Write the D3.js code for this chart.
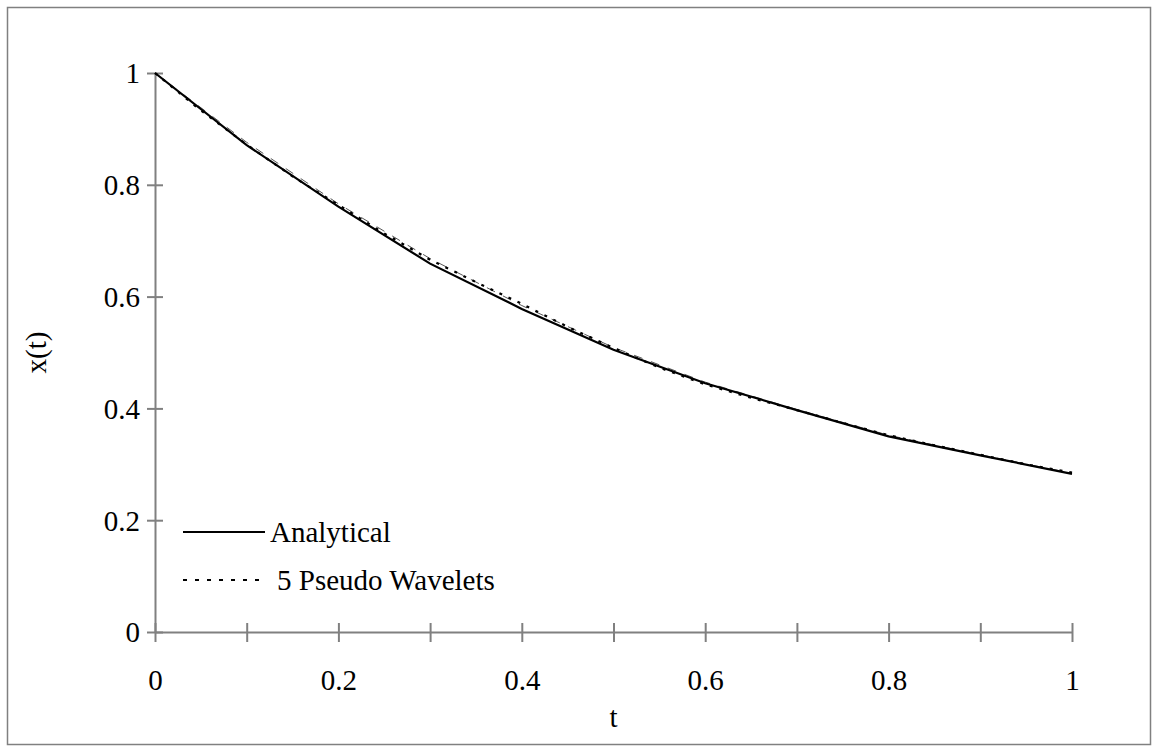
<!DOCTYPE html>
<html>
<head>
<meta charset="utf-8">
<script src="https://cdn.jsdelivr.net/npm/d3@7"></script>
<style>
  html, body { margin: 0; padding: 0; background: #fff; }
  svg { display: block; }
  text { font-family: "Liberation Serif", "Times New Roman", serif; fill: #000; }
</style>
</head>
<body>
<svg id="chart" width="1158" height="752"></svg>
<script>
// Time grid of the analytical solution and of the approximations
const tCoarse = [0, 0.1, 0.2, 0.3, 0.4, 0.5, 0.6, 0.7, 0.8, 0.9, 1.0];
const analytical = [1.0, 0.871, 0.761, 0.659, 0.578, 0.505, 0.445, 0.397, 0.350, 0.316, 0.283];

const tFine = [0, 0.05, 0.1, 0.15, 0.2, 0.25, 0.3, 0.35, 0.4, 0.45, 0.5,
               0.55, 0.6, 0.65, 0.7, 0.75, 0.8, 0.85, 0.9, 0.95, 1.0];
const pseudoWavelets5 = [1.0, 0.933, 0.872, 0.815, 0.764, 0.713, 0.666, 0.626, 0.587, 0.546, 0.508,
                         0.473, 0.443, 0.419, 0.397, 0.374, 0.352, 0.334, 0.317, 0.300, 0.285];
const coarseApprox = [1.0, 0.876, 0.766, 0.668, 0.584, 0.509, 0.447, 0.398, 0.352, 0.317, 0.284];

const xTicks = [0, 0.1, 0.2, 0.3, 0.4, 0.5, 0.6, 0.7, 0.8, 0.9, 1.0];
const xTickLabels = ["0", "", "0.2", "", "0.4", "", "0.6", "", "0.8", "", "1"];
const yTicks = [0, 0.2, 0.4, 0.6, 0.8, 1.0];
const yTickLabels = ["0", "0.2", "0.4", "0.6", "0.8", "1"];
const legendNames = ["Analytical", "5 Pseudo Wavelets"];

const svg = d3.select("#chart");
const axisGrey = "#808080";
const fontSize = 29;

// outer frame
svg.append("rect")
  .attr("x", 7.5).attr("y", 7.5)
  .attr("width", 1143).attr("height", 737)
  .attr("fill", "none").attr("stroke", axisGrey).attr("stroke-width", 1.5);

const x = d3.scaleLinear().domain([0, 1]).range([155, 1072]);
const y = d3.scaleLinear().domain([0, 1]).range([632, 73]);

// y axis: ticks straddle the axis line
const yAxis = d3.axisLeft(y).tickValues(yTicks).tickSize(0).tickFormat("");
const gy = svg.append("g").attr("transform", `translate(${x(0)},0)`).call(yAxis);
gy.select(".domain").attr("stroke", axisGrey).attr("stroke-width", 2);
gy.selectAll(".tick").append("line")
  .attr("x1", -8).attr("x2", 8).attr("stroke", axisGrey).attr("stroke-width", 2);
gy.selectAll(".tick").append("text")
  .attr("x", -15).attr("dy", "0.34em")
  .attr("text-anchor", "end")
  .style("font-size", fontSize + "px")
  .style("font-family", "'Liberation Serif', serif")
  .attr("fill", "#000")
  .text((d, i) => yTickLabels[i]);

// x axis
const xAxis = d3.axisBottom(x).tickValues(xTicks).tickSize(0).tickFormat("");
const gx = svg.append("g").attr("transform", `translate(0,${y(0)})`).call(xAxis);
gx.select(".domain").attr("stroke", axisGrey).attr("stroke-width", 2);
gx.selectAll(".tick").append("line")
  .attr("y1", -9).attr("y2", 10).attr("stroke", axisGrey).attr("stroke-width", 2);
gx.selectAll(".tick").append("text")
  .attr("y", 58)
  .attr("text-anchor", "middle")
  .style("font-size", fontSize + "px")
  .style("font-family", "'Liberation Serif', serif")
  .attr("fill", "#000")
  .text((d, i) => xTickLabels[i]);

// axis titles
svg.append("text")
  .attr("x", x(0.5)).attr("y", 727)
  .attr("text-anchor", "middle")
  .style("font-size", fontSize + "px")
  .text("t");
svg.append("text")
  .attr("transform", `translate(46,${y(0.5)}) rotate(-90)`)
  .attr("text-anchor", "middle")
  .style("font-size", fontSize + "px")
  .text("x(t)");

const line = d3.line().x(d => x(d[0])).y(d => y(d[1]));

// thin long-dashed approximation
svg.append("path")
  .datum(tCoarse.map((t, i) => [t, coarseApprox[i]]))
  .attr("d", line)
  .attr("fill", "none").attr("stroke", "#555").attr("stroke-width", 1)
  .attr("stroke-dasharray", "9,9");

// analytical solution
svg.append("path")
  .datum(tCoarse.map((t, i) => [t, analytical[i]]))
  .attr("d", line)
  .attr("fill", "none").attr("stroke", "#000").attr("stroke-width", 2.2);

// 5 pseudo wavelets approximation
svg.append("path")
  .datum(tFine.map((t, i) => [t, pseudoWavelets5[i]]))
  .attr("d", line)
  .attr("fill", "none").attr("stroke", "#000").attr("stroke-width", 2.2)
  .attr("stroke-dasharray", "3,7");

// legend
const legend = svg.append("g");
const legendRows = [
  { name: legendNames[0], y: 532, dash: null, textX: 270 },
  { name: legendNames[1], y: 580, dash: "4,8", textX: 277 }
];
legendRows.forEach(r => {
  const l = legend.append("line")
    .attr("x1", 183).attr("x2", 265)
    .attr("y1", r.y).attr("y2", r.y)
    .attr("stroke", "#000").attr("stroke-width", 2);
  if (r.dash) l.attr("stroke-dasharray", r.dash);
  legend.append("text")
    .attr("x", r.textX).attr("y", r.y + 10)
    .style("font-size", fontSize + "px")
    .text(r.name);
});
</script>
</body>
</html>
